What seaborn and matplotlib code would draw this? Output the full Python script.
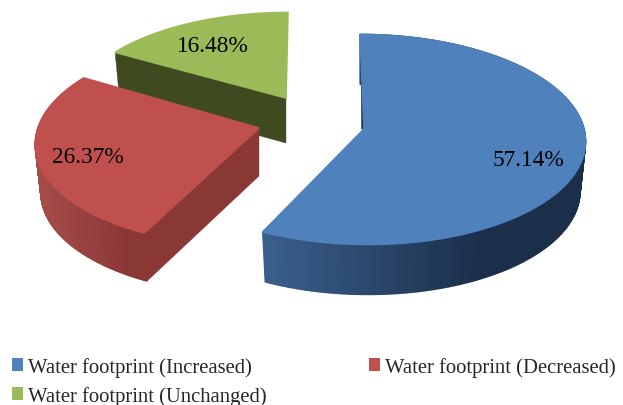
import numpy as np
import matplotlib
matplotlib.use("Agg")
import matplotlib.pyplot as plt
from matplotlib.patches import Patch
from matplotlib.colors import to_rgb
import seaborn as sns

# Survey shares, in percent
categories = ["Water footprint (Increased)", "Water footprint (Decreased)", "Water footprint (Unchanged)"]
shares = [57.14, 26.37, 16.48]

sns.set_theme(style="white")
plt.rcParams["font.family"] = ["Liberation Serif", "DejaVu Serif"]
top_colors = sns.color_palette(["#4f81bd", "#c0504d", "#9bbb59"])

# Per-slice projection settings: exploded hub, radii, perspective, skew, wall depth
slice_styles = [
    dict(hub=(364, 130), rx=220, ry=104, k=0.0995, skew=4, depth=50,
         wall=("#3a5f8c", "#1b2f4b"), wall_x=(265, 480)),
    dict(hub=(259, 129), rx=221, ry=104, k=0.12, skew=-8, depth=48,
         wall=("#a54c49", "#8a3836"), wall_x=(40, 125)),
    dict(hub=(286, 99), rx=210, ry=94, k=0.0995, skew=-2, depth=45,
         wall=("#404a20", "#404a20"), wall_x=(100, 300)),
]
label_offsets = [(164, 28), (-171, 26), (-73, -56)]
inner_wall_colors = ["#17283f", "#8a3836", "#404a20"]
BOTTOM_SHRINK = 0.975


def project(theta, style):
    """Map a clockwise-from-top angle on the tilted disc to canvas position."""
    u = np.sin(theta)
    v = -np.cos(theta)
    denom = 1 - style["k"] * v
    x = style["hub"][0] + style["rx"] * u / denom + style["skew"] * v
    y = style["hub"][1] + style["ry"] * v / denom
    return x, y


def lower(x, y, style):
    """Drop a rim point to the base of the slice."""
    return style["hub"][0] + (x - style["hub"][0]) * BOTTOM_SHRINK, y + style["depth"]


fig = plt.figure(figsize=(6.23, 4.06), dpi=100)
ax = fig.add_axes([0, 0, 1, 1])
ax.set_xlim(0, 623)
ax.set_ylim(406, 0)
ax.axis("off")

fractions = np.array(shares) / np.sum(shares)
ends = np.cumsum(fractions) * 2 * np.pi
starts = ends - fractions * 2 * np.pi
# Painted back to front so nearer slices cover farther ones
for i in [2, 1, 0]:
    st = slice_styles[i]
    theta = np.linspace(starts[i], ends[i], 240)
    x, y = project(theta, st)
    xb, yb = lower(x, y, st)
    hx, hy = st["hub"]
    c0, c1 = np.array(to_rgb(st["wall"][0])), np.array(to_rgb(st["wall"][1]))
    x0, x1 = st["wall_x"]

    # Outer rim wall, shaded left to right in narrow strips
    if i != 2:
        for j in range(len(theta) - 1):
            t = np.clip(((x[j] + x[j + 1]) / 2 - x0) / (x1 - x0), 0, 1)
            col = c0 + (c1 - c0) * t
            ax.fill([x[j], x[j + 1], xb[j + 1], xb[j]],
                    [y[j], y[j + 1], yb[j + 1], yb[j]],
                    color=col, lw=1.0, zorder=i * -10 + 1)

    # Cut wall facing the viewer
    if i == 0:
        # only a thin sliver of this wall shows along the slice's opening edge
        sx, sy = x[0], y[0]
        ax.fill([sx + (hx - sx) * 0.2, hx, hx - 2.4],
                [sy + (hy - sy) * 0.2, hy, hy],
                color=inner_wall_colors[i], lw=0.3, zorder=i * -10 + 2)
    else:
        ebx, eby = lower(x[0], y[0], st)
        ax.fill([x[0], hx, hx, ebx], [y[0], hy, hy + st["depth"], eby],
                color=inner_wall_colors[i], lw=0.3, zorder=i * -10 + 2)

    # Top face, stroked in its own colour so it hides the strips beneath its rim
    ax.fill(np.r_[hx, x], np.r_[hy, y], facecolor=top_colors[i], edgecolor=top_colors[i],
            lw=1.2, zorder=i * -10 + 3)

    ax.text(hx + label_offsets[i][0], hy + label_offsets[i][1] + 3, f"{shares[i]:.2f}%",
            ha="center", va="center", fontsize=16.8, color="black", zorder=5)

# Two-column key; matplotlib fills columns first, so the order is rearranged
order = [0, 2, 1]
handles = [Patch(facecolor=top_colors[i], edgecolor="none", label=categories[i]) for i in order]
ax.legend(handles=handles, ncol=2, loc="lower left", bbox_to_anchor=(0.0, -0.032),
          bbox_transform=ax.transAxes, frameon=False, fontsize=14.85,
          handlelength=0.54, handleheight=0.54, handletextpad=0.24,
          columnspacing=4.95, labelspacing=0.44, borderaxespad=0.0, borderpad=0.585)

fig.savefig("out.png", dpi=100)
